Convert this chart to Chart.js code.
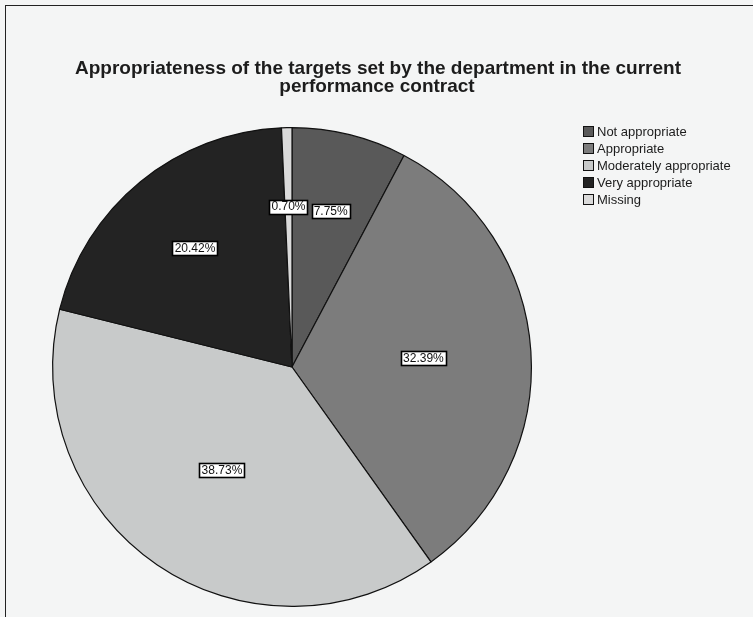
<!DOCTYPE html>
<html>
<head>
<meta charset="utf-8">
<script src="https://cdn.jsdelivr.net/npm/chart.js@4/dist/chart.umd.min.js"></script>
<style>
  html, body { margin: 0; padding: 0; background: #f4f5f5; }
  #wrap { position: relative; width: 753px; height: 617px; }
  #frame { position: absolute; left: 5px; top: 5px; width: 760px; height: 630px; border: 1px solid #222; box-sizing: border-box; }
  canvas { position: absolute; left: 0; top: 0; }
</style>
</head>
<body>
<div id="wrap">
  <div id="frame"></div>
  <canvas id="chPie" width="753" height="617"></canvas>
</div>
<script>
// targets appropriateness survey
var categories = ['Not appropriate', 'Appropriate', 'Moderately appropriate', 'Very appropriate', 'Missing'];
var percents = [7.75, 32.39, 38.73, 20.42, 0.70];
var titleLines = ['Appropriateness of the targets set by the department in the current', 'performance contract'];

var sliceColors = ['#595959', '#7c7c7c', '#c8caca', '#232323', '#dadada'];

// where each value box sits along its slice (fraction of radius)
var labelRadius = [0.67, 0.55, 0.52, 0.64, 0.67];

var boxLabels = {
    id: 'boxLabels',
    afterDatasetsDraw: function(chart) {
        var ctx = chart.ctx;
        var meta = chart.getDatasetMeta(0);
        ctx.save();
        ctx.font = '12px "Liberation Sans", Arial, sans-serif';
        ctx.textAlign = 'center';
        ctx.textBaseline = 'middle';
        meta.data.forEach(function(arc, i) {
            var p = arc.getProps(['x', 'y', 'startAngle', 'endAngle', 'outerRadius'], true);
            var mid = (p.startAngle + p.endAngle) / 2;
            var r = p.outerRadius * labelRadius[i];
            var x = p.x + Math.cos(mid) * r;
            var y = p.y + Math.sin(mid) * r;
            var txt = percents[i].toFixed(2) + '%';
            var w = Math.round(ctx.measureText(txt).width + 4);
            var bx = Math.round(x - w / 2) + 0.5, by = Math.round(y - 7) + 0.5;
            ctx.fillStyle = '#fff';
            ctx.fillRect(bx, by, w, 14);
            ctx.strokeStyle = '#000';
            ctx.lineWidth = 1.6;
            ctx.strokeRect(bx, by, w, 14);
            ctx.fillStyle = '#111';
            ctx.fillText(txt, x, y + 0.5);
        });
        ctx.restore();
    }
};

// heading and key are drawn off the chart area so the pie keeps its place
var headAndKey = {
    id: 'headAndKey',
    afterDraw: function(chart) {
        var ctx = chart.ctx;
        ctx.save();
        ctx.fillStyle = '#1c1c1c';
        ctx.font = 'bold 19px "Liberation Sans", Arial, sans-serif';
        ctx.textAlign = 'center';
        ctx.textBaseline = 'middle';
        ctx.fillText(titleLines[0], 378, 69);
        ctx.fillText(titleLines[1], 377, 87);

        ctx.font = '13px "Liberation Sans", Arial, sans-serif';
        ctx.textAlign = 'left';
        categories.forEach(function(name, i) {
            var y = 132 + i * 17;
            ctx.fillStyle = sliceColors[i];
            ctx.fillRect(583.5, y - 5.5, 10, 10);
            ctx.strokeStyle = '#111';
            ctx.lineWidth = 1;
            ctx.strokeRect(583.5, y - 5.5, 10, 10);
            ctx.fillStyle = '#1c1c1c';
            ctx.fillText(name, 597, y);
        });
        ctx.restore();
    }
};

new Chart(document.getElementById('chPie'), {
    type: 'pie',
    data: {
        labels: categories,
        datasets: [{
            data: percents,
            backgroundColor: sliceColors,
            borderColor: '#111',
            borderWidth: 1.2
        }]
    },
    options: {
        responsive: false,
        animation: false,
        layout: {
            padding: { top: 127, left: 52, right: 221, bottom: 10 }
        },
        plugins: {
            legend: { display: false },
            title: { display: false },
            tooltip: { enabled: false }
        }
    },
    plugins: [boxLabels, headAndKey]
});
</script>
</body>
</html>
